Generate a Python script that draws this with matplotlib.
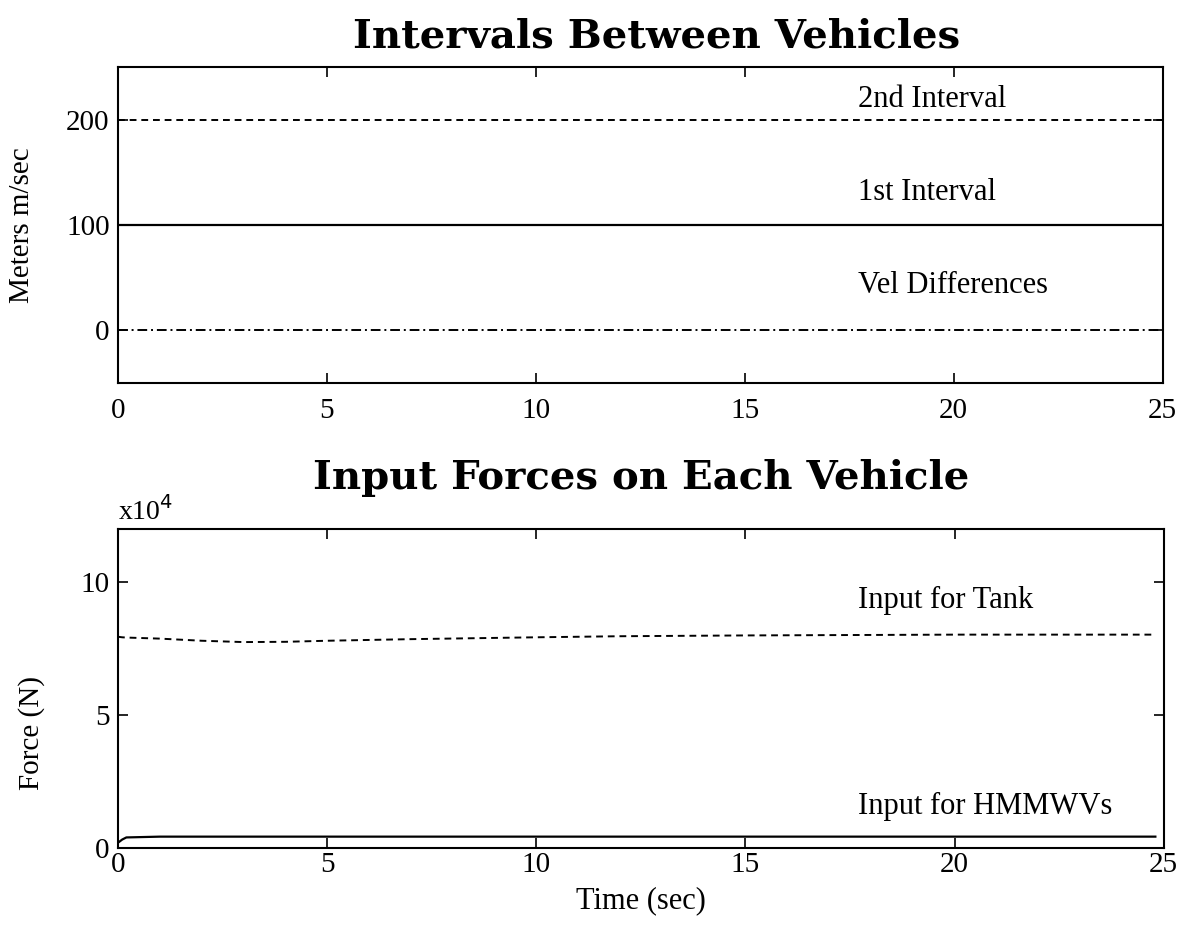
import matplotlib.pyplot as plt
import numpy as np

# Top panel: intervals between vehicles (constant runs)
t_top = [0, 5, 10, 15, 20, 25]
interval_2nd = [200, 200, 200, 200, 200, 200]
interval_1st = [100, 100, 100, 100, 100, 100]
vel_diff = [0, 0, 0, 0, 0, 0]

# Bottom panel: input forces (x10^4 N)
t_force = [0, 0.1, 0.2, 1, 2, 3, 4, 5, 7, 10, 12, 15, 20, 24.8]
tank_force = [7.95, 7.93, 7.92, 7.88, 7.8, 7.75, 7.76, 7.8, 7.86, 7.93, 7.97, 8.0, 8.03, 8.03]
hmmwv_force = [0.2, 0.32, 0.4, 0.43, 0.43, 0.43, 0.43, 0.43, 0.43, 0.43, 0.43, 0.43, 0.43, 0.43]

plt.rcParams['font.family'] = 'Liberation Serif'

fig = plt.figure(figsize=(11.87, 9.34), dpi=100)
ax1 = fig.add_axes([0.0994, 0.590, 0.880, 0.338])
ax2 = fig.add_axes([0.0994, 0.092, 0.881, 0.3415])

dash = (0, (3.5, 2.5))
dashdot = (0, (5, 2, 1, 2))

ax1.plot(t_top, interval_2nd, color='black', lw=1.4, linestyle=dash)
ax1.plot(t_top, interval_1st, color='black', lw=1.6, linestyle='-')
ax1.plot(t_top, vel_diff, color='black', lw=1.4, linestyle=dashdot)
ax1.set_xlim(0, 25)
ax1.set_ylim(-50, 250)
ax1.set_xticks([0, 5, 10, 15, 20, 25])
ax1.set_yticks([0, 100, 200])
ax1.set_ylabel('Meters m/sec', fontsize=21)
ax1.yaxis.set_label_coords(-0.079, 0.5)
ax1.set_title('Intervals Between Vehicles', fontsize=29, fontweight='bold',
              family='DejaVu Serif', pad=14, x=0.516)
ax1.text(17.7, 219, '2nd Interval', fontsize=22, ha='left', va='center')
ax1.text(17.7, 131, '1st Interval', fontsize=22, ha='left', va='center')
ax1.text(17.7, 43, 'Vel Differences', fontsize=22, ha='left', va='center')

ax2.plot(t_force, tank_force, color='black', lw=1.4, linestyle=dash)
ax2.plot(t_force, hmmwv_force, color='black', lw=1.6, linestyle='-')
ax2.set_xlim(0, 25)
ax2.set_ylim(0, 12)
ax2.set_xticks([0, 5, 10, 15, 20, 25])
ax2.set_yticks([0, 5, 10])
ax2.set_ylabel('Force (N)', fontsize=21)
ax2.yaxis.set_label_coords(-0.070, 0.36)
ax2.set_xlabel('Time (sec)', fontsize=22, labelpad=6)
ax2.set_title('Input Forces on Each Vehicle', fontsize=29, fontweight='bold',
              family='DejaVu Serif', pad=29)
ax2.text(17.7, 9.3, 'Input for Tank', fontsize=22, ha='left', va='center')
ax2.text(17.7, 1.55, 'Input for HMMWVs', fontsize=22, ha='left', va='center')
ax2.text(0.0, 12.1, r'x10$^4$', fontsize=20, ha='left', va='bottom')

for ax in (ax1, ax2):
    ax.tick_params(direction='in', length=7, width=1.2, labelsize=21,
                   top=True, right=True, pad=6)
    for s in ax.spines.values():
        s.set_linewidth(1.5)
ax1.tick_params(axis='x', pad=11)
ax2.tick_params(axis='x', pad=3)

fig.savefig('out.png')
